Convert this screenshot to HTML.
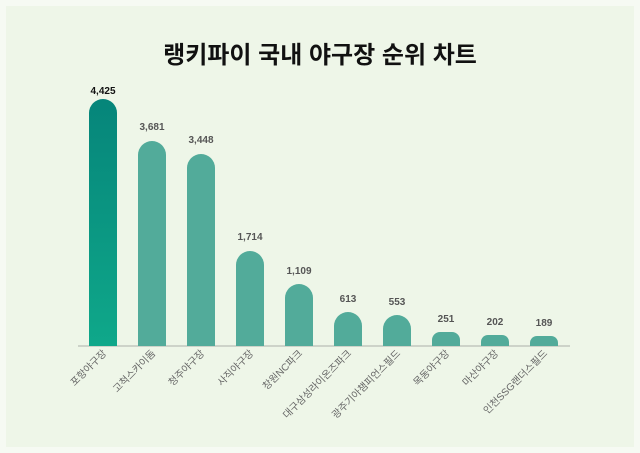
<!DOCTYPE html>
<html><head><meta charset="utf-8"><style>
body{margin:0;width:640px;height:453px;background:#f6faf3;font-family:"Liberation Sans","Noto Sans CJK KR",sans-serif;overflow:hidden}
.panel{position:absolute;left:6px;top:6px;width:628px;height:441px;background:#eef6e8}
</style></head><body>
<div class="panel"></div>
<svg width="640" height="453" style="position:absolute;left:0;top:0">
<defs><linearGradient id="g1" x1="0" y1="0" x2="0" y2="1"><stop offset="0" stop-color="#06857a"/><stop offset="1" stop-color="#0fa88a"/></linearGradient></defs>
<text x="320" y="63" text-anchor="middle" font-size="24" font-weight="bold" fill="#111" font-family="Liberation Sans,Noto Sans CJK KR,sans-serif">랭키파이 국내 야구장 순위 차트</text>
<line x1="78" y1="346" x2="570" y2="346" stroke="#cdd3c9" stroke-width="2"/>
<g font-size="10" font-weight="bold" text-anchor="middle" fill="#555" font-family="Liberation Sans,sans-serif">
<path d="M89,346 V113 a14,14 0 0 1 28,0 V346 Z" fill="url(#g1)"/><text x="103" y="94" fill="#111">4,425</text>
<path d="M138,346 V155 a14,14 0 0 1 28,0 V346 Z" fill="#52ab9a"/><text x="152" y="130">3,681</text>
<path d="M187,346 V168 a14,14 0 0 1 28,0 V346 Z" fill="#52ab9a"/><text x="201" y="143">3,448</text>
<path d="M236,346 V265 a14,14 0 0 1 28,0 V346 Z" fill="#52ab9a"/><text x="250" y="240">1,714</text>
<path d="M285,346 V298 a14,14 0 0 1 28,0 V346 Z" fill="#52ab9a"/><text x="299" y="274">1,109</text>
<path d="M334,346 V326 a14,14 0 0 1 28,0 V346 Z" fill="#52ab9a"/><text x="348" y="302">613</text>
<path d="M383,346 V329 a14,14 0 0 1 28,0 V346 Z" fill="#52ab9a"/><text x="397" y="305">553</text>
<path d="M432,346 V340 a8,8 0 0 1 8,-8 H452 a8,8 0 0 1 8,8 V346 Z" fill="#52ab9a"/><text x="446" y="322">251</text>
<path d="M481,346 V342 a7,7 0 0 1 7,-7 H502 a7,7 0 0 1 7,7 V346 Z" fill="#52ab9a"/><text x="495" y="325">202</text>
<path d="M530,346 V343 a7,7 0 0 1 7,-7 H551 a7,7 0 0 1 7,7 V346 Z" fill="#52ab9a"/><text x="544" y="326">189</text>
</g>
<g font-size="10" fill="#666" text-anchor="end" font-family="Liberation Sans,Noto Sans CJK KR,sans-serif">
<text transform="translate(107,354) rotate(-45)">포항야구장</text>
<text transform="translate(156,354) rotate(-45)">고척스카이돔</text>
<text transform="translate(205,354) rotate(-45)">청주야구장</text>
<text transform="translate(254,354) rotate(-45)">사직야구장</text>
<text transform="translate(303,354) rotate(-45)">창원NC파크</text>
<text transform="translate(352,354) rotate(-45)">대구삼성라이온즈파크</text>
<text transform="translate(401,354) rotate(-45)">광주기아챔피언스필드</text>
<text transform="translate(450,354) rotate(-45)">목동야구장</text>
<text transform="translate(499,354) rotate(-45)">마산야구장</text>
<text transform="translate(548,354) rotate(-45)">인천SSG랜더스필드</text>
</g>
</svg>
</body></html>
